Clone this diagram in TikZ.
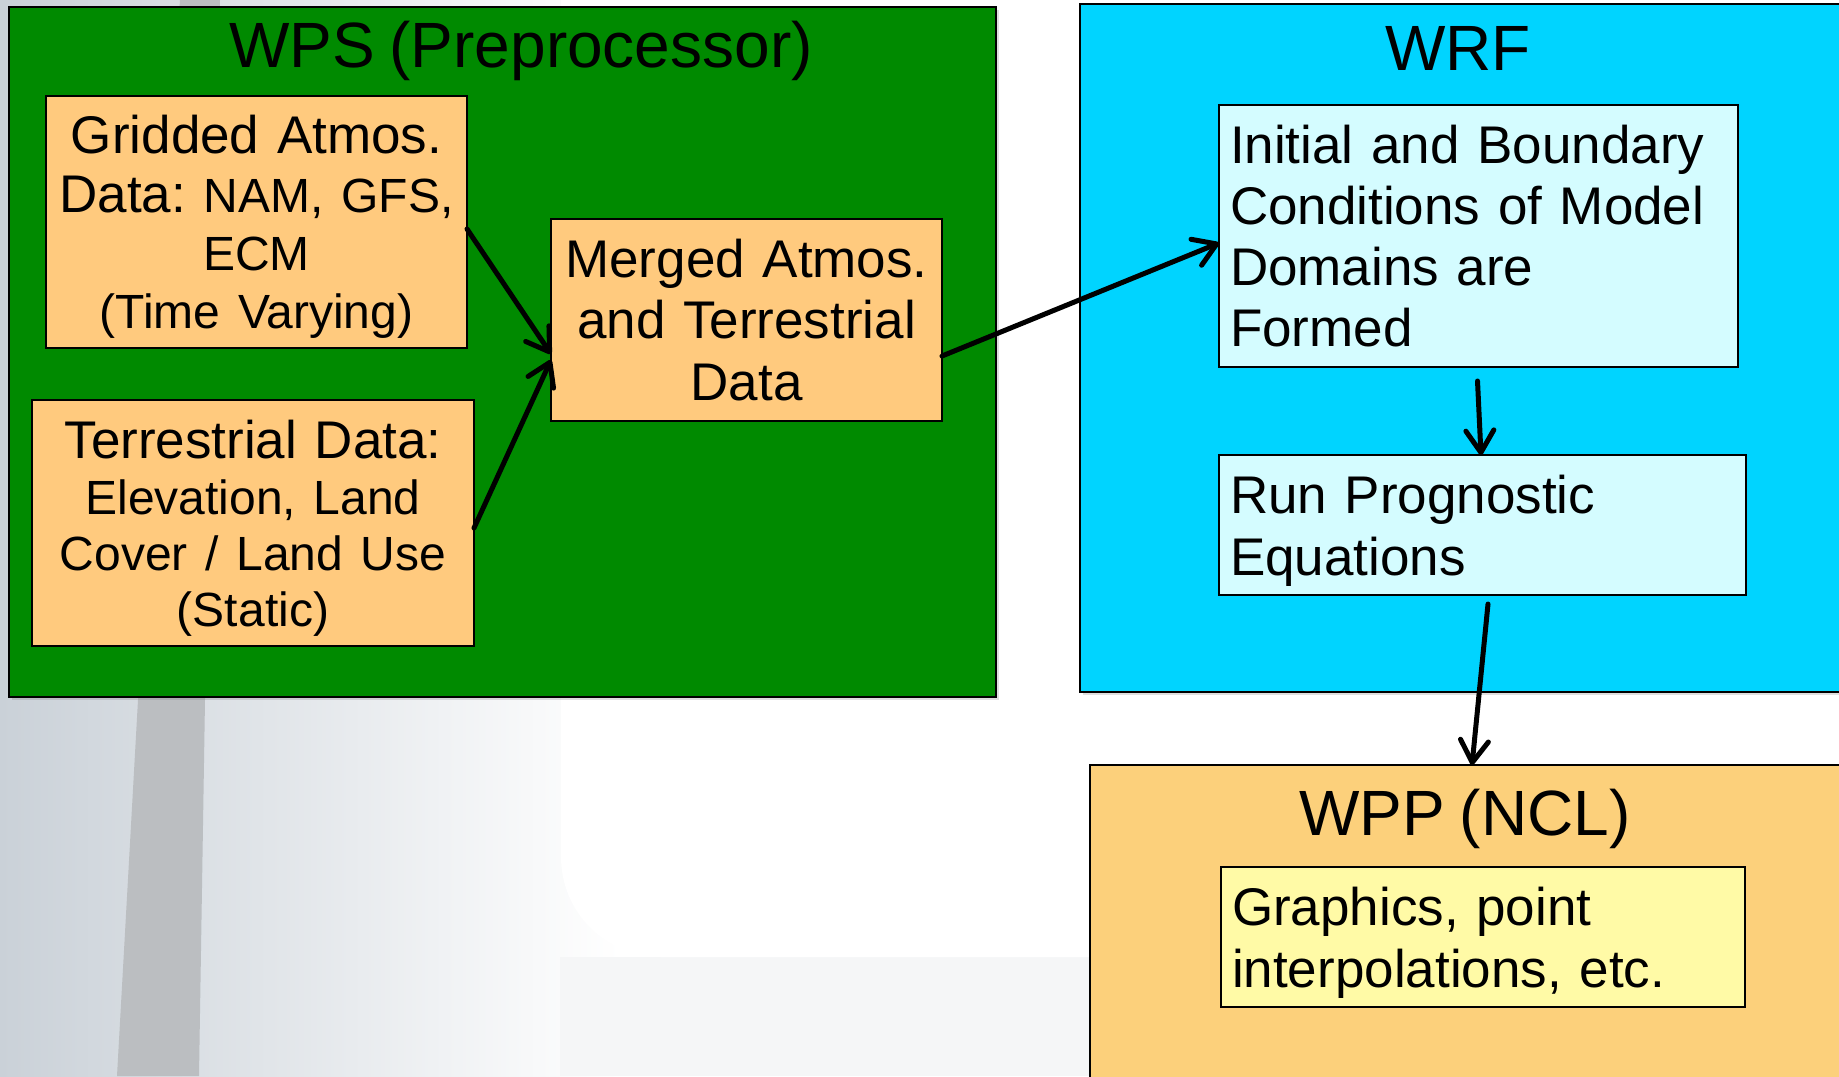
\documentclass[tikz,border=0pt]{standalone}
\usepackage{fontspec}
\setmainfont{Liberation Sans}[WordSpace=0.82]
\usetikzlibrary{arrows.meta,calc,shadows}
\definecolor{wpsgreen}{HTML}{008A00}
\definecolor{wrfcyan}{HTML}{00D4FF}
\definecolor{orangebox}{HTML}{FFCA7E}
\definecolor{lightcyan}{HTML}{D4FCFF}
\definecolor{lightyellow}{HTML}{FFFAA6}
\definecolor{wppfill}{HTML}{FCD07B}
\definecolor{bgleft}{HTML}{CAD1D8}
\definecolor{bglow}{HTML}{F5F6F7}
\definecolor{polegray}{HTML}{BBBEC1}
\newcommand\smallpart{\fontsize{24}{28}\selectfont}
\begin{document}
\frenchspacing
\begin{tikzpicture}[x=0.5pt,y=-0.5pt,
  container/.style={draw=black,line width=1.2pt,inner sep=0pt,outer sep=0pt,
    drop shadow={opacity=0.25,shadow xshift=1.5pt,shadow yshift=-1.5pt}},
  inbox/.style={draw=black,line width=1pt,outer sep=0pt,inner xsep=5.5pt,inner ysep=0pt},
  cbox/.style={draw=black,line width=1pt,outer sep=0pt,inner xsep=1pt,inner ysep=0pt,align=center},
  title/.style={font=\fontsize{32}{36}\selectfont,anchor=base,inner sep=0pt},
  flow/.style={line width=2.5pt,line cap=round,line join=round,
    -{Straight Barb[length=11pt,width=14pt,round]}}
]
\useasboundingbox (0,0) rectangle (1839,1076);
\clip (0,0) rectangle (1839,1076);
% background
\fill[white] (0,0) rectangle (1839,1076);
\shade[left color=bgleft,right color=white] (0,0) rectangle (620,1076);
\fill[bglow] (560,1076) -- (560,957) -- (1100,957) -- (1100,1076) -- cycle;
\fill[white,rounded corners=50pt] (561,-100) rectangle (1900,957);
\fill[polegray] (180,0) -- (220,0) -- (205,700) -- (199,1076) -- (117,1076) -- (138,700) -- cycle;

% containers
\node[container,fill=wpsgreen,minimum width=493.5pt,minimum height=345pt] (wps) at (502.5,352) {};
\node[container,fill=wrfcyan,minimum width=390pt,minimum height=344pt] (wrf) at (1470,348) {};
\node[container,fill=wppfill,minimum width=385pt,minimum height=167.5pt] (wpp) at (1475,932.5) {};

% titles
\node[title] (wpst) at (521,67) {WPS (Preprocessor)};
\node[title] (wrft) at (1458,70) {WRF};
\node[title] (wppt) at (1465,835) {WPP (NCL)};

% inner boxes
\node[cbox,fill=orangebox,minimum width=210.5pt,minimum height=126pt,text width=208pt,
  font=\fontsize{26.5}{29.2}\selectfont] (grid) at (256.5,222)
  {Gridded Atmos.\\ Data: {\smallpart NAM, GFS,}\\ {\smallpart ECM}\\ {\smallpart\smash{(Time Varying)}}};
\node[cbox,fill=orangebox,minimum width=221pt,minimum height=123pt,text width=218.5pt,
  font=\fontsize{26.5}{28}\selectfont] (terr) at (253,523)
  {Terrestrial Data:\\ {\smallpart Elevation, Land}\\ {\smallpart Cover / Land Use}\\ {\smallpart\smash{(Static)}}};
\node[cbox,fill=orangebox,minimum width=195.5pt,minimum height=101pt,text width=193pt,
  font=\fontsize{26.5}{30.7}\selectfont] (merged) at (746.5,320)
  {Merged Atmos.\\ and Terrestrial\\ Data};
\node[inbox,fill=lightcyan,minimum width=259.5pt,minimum height=131pt,text width=248.5pt,
  align=left,font=\fontsize{26.5}{30.5}\selectfont] (init) at (1478.5,236)
  {Initial and Boundary\\ Conditions of Model\\ Domains are\\ Formed};
\node[inbox,fill=lightcyan,minimum width=263.5pt,minimum height=70pt,text width=252.5pt,
  align=left,font=\fontsize{26.5}{31}\selectfont] (run) at (1482.5,525)
  {Run Prognostic\\ \smash{Equations}};
\node[inbox,fill=lightyellow,minimum width=262pt,minimum height=70pt,text width=251pt,
  align=left,font=\fontsize{26.5}{31}\selectfont] (gfx) at (1483,937)
  {Graphics, point\\ \smash{interpolations, etc.}};

% connectors
\draw[flow] ($(grid.east)+(0,7)$) -- ($(merged.west)+(0,34)$);
\draw[flow] ($(terr.east)+(0,5)$) -- ($(merged.west)+(0,40)$);
\draw[flow] ($(merged.east)+(0,36)$) -- ($(init.west)+(0,7)$);
\draw[flow] ($(init.south)+(-1,14)$) -- ($(run.north)+(-1.5,0)$);
\draw[flow] ($(run.south)+(5.5,9)$) -- ($(wpp.north)+(-3,0)$);
\end{tikzpicture}
\end{document}
